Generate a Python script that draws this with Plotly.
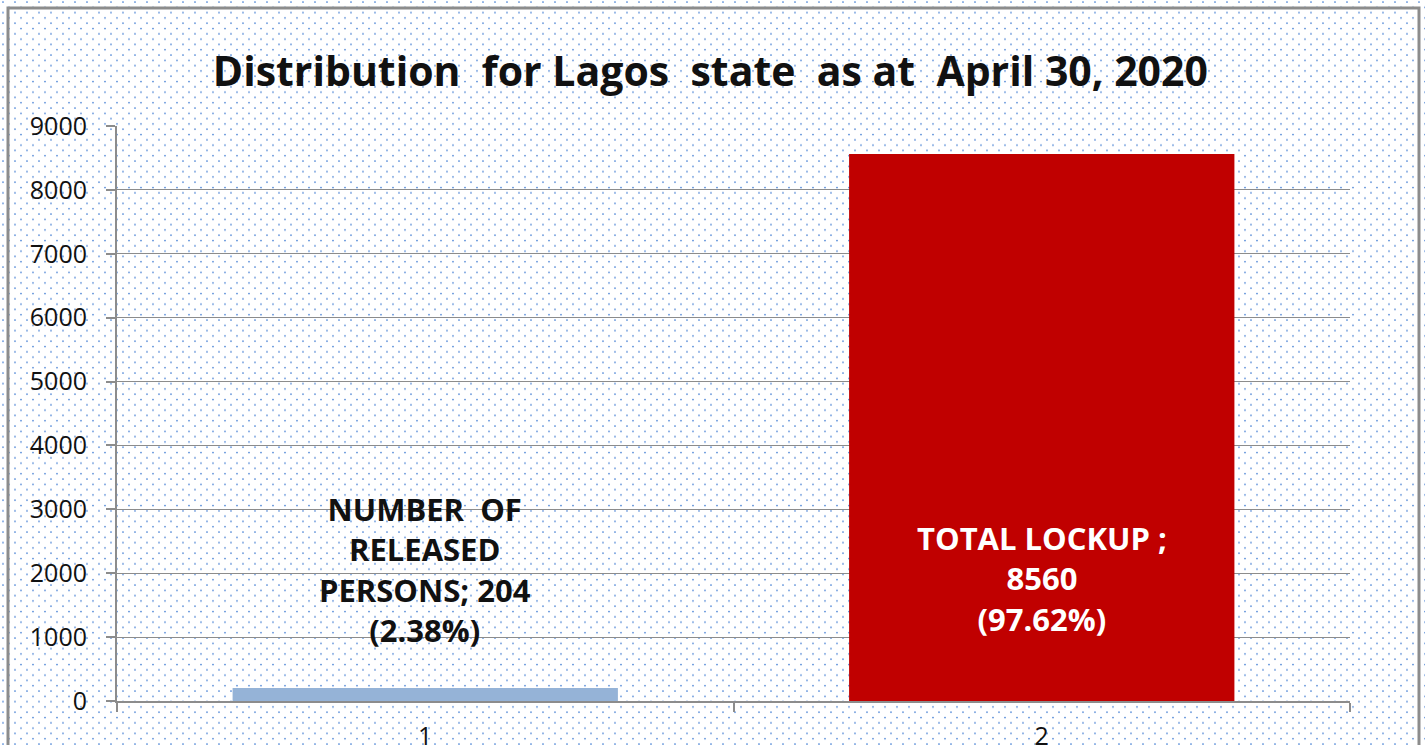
import base64
import plotly.graph_objects as go

categories = ["1", "2"]
values = [204, 8560]
bar_colors = ["#95b3d7", "#c00000"]
labels = ["NUMBER  OF<br>RELEASED<br>PERSONS; 204<br>(2.38%)", "TOTAL LOCKUP ;<br>8560<br>(97.62%)"]
label_colors = ["#111111", "#ffffff"]
label_y = [2066, 1910]
y_ticks = list(range(0, 10000, 1000))

W, H = 1425, 745
L, R, T, B = 117, 75, 126, 44
pw, ph = W - L - R, H - T - B

svg = (
    f'<svg xmlns="http://www.w3.org/2000/svg" width="{W}" height="{H}">'
    '<defs><pattern id="p" width="12" height="10.6" patternUnits="userSpaceOnUse">'
    '<circle cx="3" cy="2" r="0.9" fill="#4f86d6"/>'
    '<circle cx="9" cy="7.3" r="0.9" fill="#4f86d6"/>'
    '</pattern></defs>'
    f'<rect width="{W}" height="{H}" fill="url(#p)"/></svg>'
)
src = "data:image/svg+xml;base64," + base64.b64encode(svg.encode()).decode()

fig = go.Figure()
fig.add_trace(go.Bar(
    x=categories, y=values, marker=dict(color=bar_colors, line=dict(width=0)),
    width=0.625, hoverinfo="skip",
))

font = "'Open Sans', Lato, sans-serif"
for i, (t, col, ly) in enumerate(zip(labels, label_colors, label_y)):
    fig.add_annotation(x=i, y=ly, xref="x", yref="y", text=t, showarrow=False,
                       font=dict(family=font, size=31, color=col, weight="bold"),
                       align="center", yanchor="middle")

fig.add_layout_image(dict(
    source=src, xref="paper", yref="paper",
    x=-L / pw, y=(ph + T) / ph, sizex=W / pw, sizey=H / ph,
    xanchor="left", yanchor="top", sizing="stretch", layer="below",
))

# outer border
fig.add_shape(type="rect", xref="paper", yref="paper",
              x0=(8 - L) / pw, x1=(1419 - L) / pw,
              y0=-0.2, y1=(ph + T - 8) / ph,
              line=dict(color="#8c8c8c", width=3), layer="above")

fig.update_layout(
    width=W, height=H,
    margin=dict(l=L, r=R, t=T, b=B, autoexpand=False),
    paper_bgcolor="white", plot_bgcolor="white",
    showlegend=False,
    title=dict(text="<b>Distribution  for Lagos  state  as at  April 30, 2020</b>",
               x=0.4985, xanchor="center", y=1 - 72 / H, yanchor="middle",
               font=dict(family=font, size=41, color="#111111")),
    xaxis=dict(type="category", tickson="boundaries", ticks="outside", ticklen=9,
               tickcolor="#8c8c8c", tickwidth=2, showgrid=False,
               showline=True, linecolor="#8c8c8c", linewidth=2,
               tickfont=dict(family=font, size=25, color="#111111"),
               ticklabelstandoff=12, automargin=False),
    yaxis=dict(range=[0, 9000], tickvals=y_ticks, ticks="outside", ticklen=9,
               tickcolor="#8c8c8c", tickwidth=2,
               showgrid=True, gridcolor="#8c8c8c", gridwidth=1.3,
               showline=True, linecolor="#8c8c8c", linewidth=2,
               zeroline=False, automargin=False,
               tickfont=dict(family=font, size=25, color="#111111"),
               ticklabelstandoff=14),
    bargap=0.375,
)

fig.write_html("out.html", config={"displayModeBar": False},
               post_script="document.body.style.margin='0';")
